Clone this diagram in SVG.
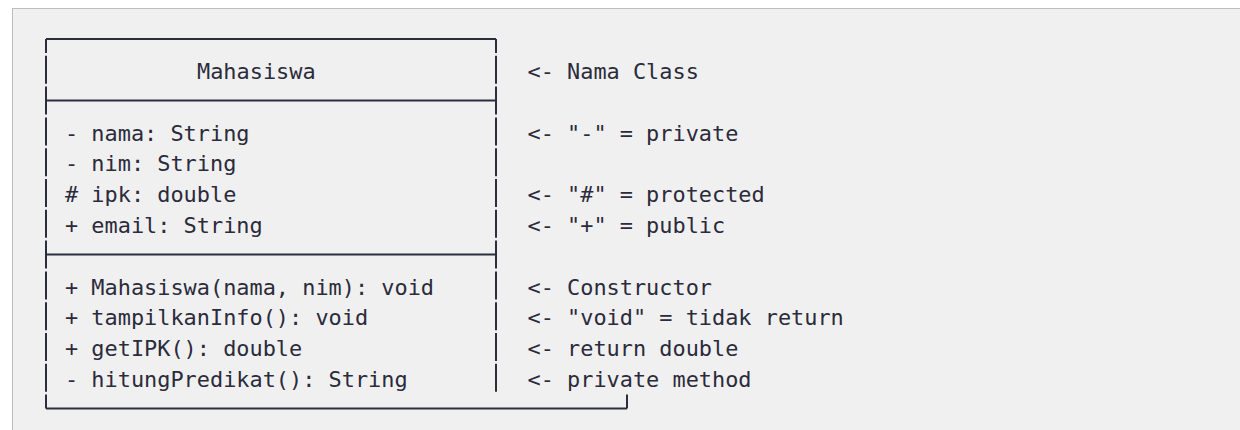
<svg xmlns="http://www.w3.org/2000/svg" width="1240" height="430" viewBox="0 0 1240 430">
  <style>
    .t { font-family: "DejaVu Sans Mono", "Liberation Mono", monospace; font-size: 21.9px; fill: #2b2b3b; }
    .ln { stroke: #2d2d40; stroke-width: 2; fill: none; }
  </style>
  <rect x="0" y="0" width="1240" height="430" fill="#ffffff"/>
  <rect x="12.5" y="8.5" width="1240" height="430" fill="#f0f0f0" stroke="#bdbdbd" stroke-width="1"/>

  <g id="class-mahasiswa">
    <path class="ln" d="M46 39 H496 M46 100.6 H496 M46 254.6 H496 M46 408.6 H627"/>
    <path class="ln" d="M46 39 V53 M46 55.8 V83.8 M46 86.6 V114.6 M46 117.4 V145.4 M46 148.2 V176.2 M46 179 V207 M46 209.8 V237.8 M46 240.6 V268.6 M46 271.4 V299.4 M46 302.2 V330.2 M46 333 V361 M46 363.8 V391.8 M46 394.6 V408.6"/>
    <path class="ln" d="M496 39 V53 M496 55.8 V83.8 M496 86.6 V114.6 M496 117.4 V145.4 M496 148.2 V176.2 M496 179 V207 M496 209.8 V237.8 M496 240.6 V268.6 M496 271.4 V299.4 M496 302.2 V330.2 M496 333 V361 M496 363.8 V391.8"/>
    <path class="ln" d="M627 394.6 V408.6"/>
    <text class="t" x="197" y="79">Mahasiswa</text>
    <text class="t" x="65" y="140.6">- nama: String</text>
    <text class="t" x="65" y="171.4">- nim: String</text>
    <text class="t" x="65" y="202.2"># ipk: double</text>
    <text class="t" x="65" y="233">+ email: String</text>
    <text class="t" x="65" y="294.6">+ Mahasiswa(nama, nim): void</text>
    <text class="t" x="65" y="325.4">+ tampilkanInfo(): void</text>
    <text class="t" x="65" y="356.2">+ getIPK(): double</text>
    <text class="t" x="65" y="387">- hitungPredikat(): String</text>
  </g>

  <g id="annotations">
    <text class="t" x="527.5" y="79">&lt;- Nama Class</text>
    <text class="t" x="527.5" y="140.6">&lt;- "-" = private</text>
    <text class="t" x="527.5" y="202.2">&lt;- "#" = protected</text>
    <text class="t" x="527.5" y="233">&lt;- "+" = public</text>
    <text class="t" x="527.5" y="294.6">&lt;- Constructor</text>
    <text class="t" x="527.5" y="325.4">&lt;- "void" = tidak return</text>
    <text class="t" x="527.5" y="356.2">&lt;- return double</text>
    <text class="t" x="527.5" y="387">&lt;- private method</text>
  </g>

  <g id="connectors"/>
</svg>
